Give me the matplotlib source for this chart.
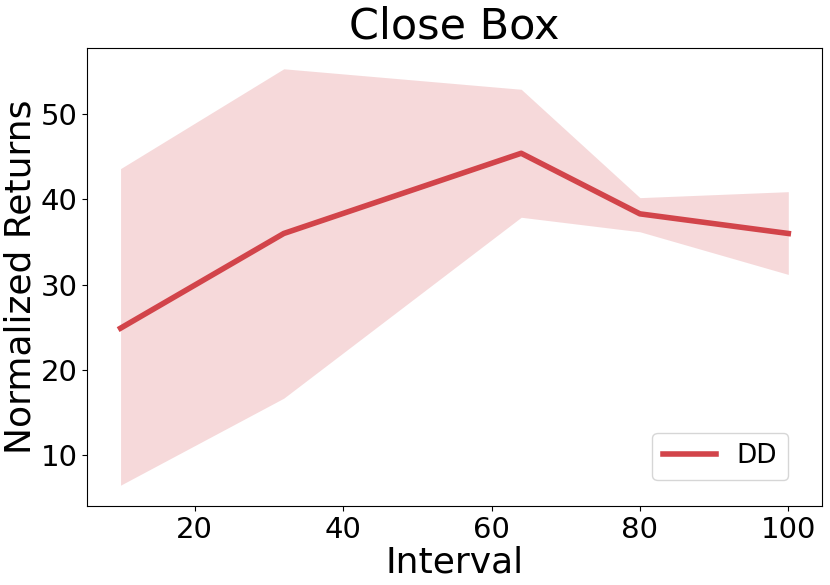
import numpy as np
import matplotlib.pyplot as plt

# Datos
intervalos = [10, 32, 64, 80, 100]
media_dd = [24.9, 36.0, 45.4, 38.3, 36.0]
superior_dd = [43.6, 55.3, 52.9, 40.2, 40.9]
inferior_dd = [6.5, 16.7, 37.9, 36.2, 31.2]

color_dd = '#d2444a'

fig = plt.figure(figsize=(8.3, 5.85), dpi=100)
ax = fig.add_axes([0.105, 0.135, 0.885, 0.783])

ax.fill_between(intervalos, inferior_dd, superior_dd, color=color_dd, alpha=0.2, linewidth=0)
ax.plot(intervalos, media_dd, color=color_dd, linewidth=4, label='DD')

ax.set_title('Close Box', fontsize=31)
ax.set_xlabel('Interval', fontsize=26, labelpad=1)
ax.set_ylabel('Normalized Returns', fontsize=26, labelpad=2)
ax.tick_params(labelsize=21)
ax.set_xticks([20, 40, 60, 80, 100])
ax.set_yticks([10, 20, 30, 40, 50])
# leyenda abajo a la derecha, un poco metida
ax.legend(loc='lower right', fontsize=19, borderaxespad=0, bbox_to_anchor=(0.954, 0.057))

fig.savefig('out.png', dpi=100)
